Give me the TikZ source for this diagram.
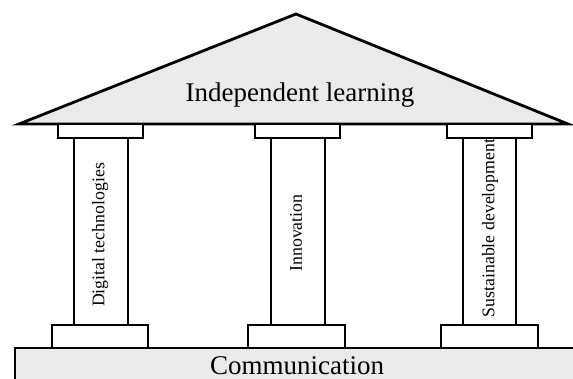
\documentclass[tikz,border=0pt]{standalone}
\usepackage{fontspec}
\setmainfont{Liberation Serif}
\definecolor{roofgray}{RGB}{234,234,234}
\begin{document}
\begin{tikzpicture}[x=1pt,y=-1pt,
  part/.style={draw=black,line width=2.8pt,line join=miter},
  bigtext/.style={font=\fontsize{27}{30}\selectfont,inner sep=0pt},
  pillartext/.style={font=\fontsize{17.8}{20}\selectfont,inner sep=0pt,rotate=90}]
\clip (0,0) rectangle (573,379);
% roof
\draw[part,fill=roofgray] (19,124) -- (296,14) -- (568,124) -- cycle;
% capitals
\draw[part,fill=white] (58,124) rectangle (143,138);
\draw[part,fill=white] (255,124) rectangle (340,138);
\draw[part,fill=white] (447,124) rectangle (532,138);
% shafts
\draw[part,fill=white] (74,138) rectangle (128,325);
\draw[part,fill=white] (271,138) rectangle (325,325);
\draw[part,fill=white] (463,138) rectangle (516,325);
% bases
\draw[part,fill=white] (52,325) rectangle (148,348);
\draw[part,fill=white] (248,325) rectangle (345,348);
\draw[part,fill=white] (441,325) rectangle (538,348);
% slab
\draw[part,fill=roofgray] (15,348) rectangle (590,400);
% texts
\node[bigtext,anchor=base] (roof) at (300,102) {Independent learning};
\node[bigtext,anchor=base,text depth=0pt] (comm) at (297,374) {Communication};
\node[pillartext] (dig) at (100,235) {Digital technologies};
\node[pillartext] (inn) at (296,233) {Innovation};
\node[pillartext] (sus) at (490,228) {Sustainable development};
\end{tikzpicture}
\end{document}
